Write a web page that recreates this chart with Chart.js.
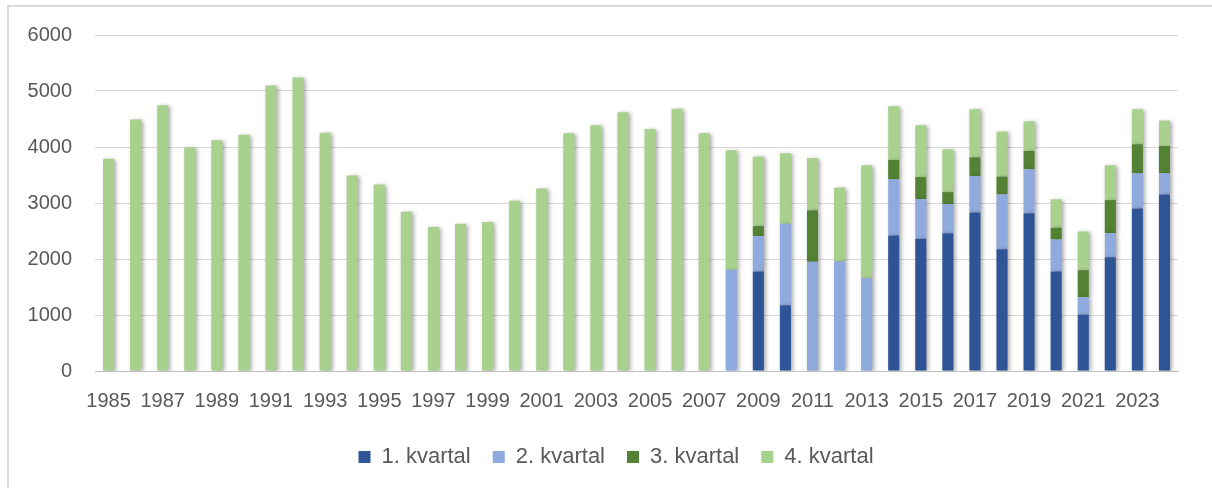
<!DOCTYPE html>
<html>
<head>
<meta charset="utf-8">
<script src="https://cdn.jsdelivr.net/npm/chart.js@4"></script>
<style>
  body { margin: 0; background: #fff; overflow: hidden; }
  #wrap { position: relative; width: 1212px; height: 488px; overflow: hidden; }
  #frame { position: absolute; left: 7px; top: 5px; width: 1205px; height: 490px; border-left: 2px solid #d9d9d9; border-top: 2px solid #d9d9d9; box-sizing: border-box; }
  canvas { position: absolute; left: 0; top: 0; }
</style>
</head>
<body>
<div id="wrap">
  <div id="frame"></div>
  <canvas id="myChart" width="1212" height="488"></canvas>
</div>
<script>
'use strict';

let years = [];
for (let y = 1985; y <= 2024; y++) { years.push(String(y)); }

let seriesNames = ['1. kvartal', '2. kvartal', '3. kvartal', '4. kvartal'];

// 1985-2007 only the full year (shown as 4. kvartal)
let q1 = [0,0,0,0,0,0,0,0,0,0,0,0,0,0,0,0,0,0,0,0,0,0,0,
          0, 1776, 1174, 0, 0, 0, 2420, 2361, 2462, 2832, 2175, 2819, 1776, 1007, 2032, 2904, 3154];
let q2 = [0,0,0,0,0,0,0,0,0,0,0,0,0,0,0,0,0,0,0,0,0,0,0,
          1807, 632, 1456, 1950, 1961, 1657, 1002, 709, 518, 649, 979, 782, 573, 310, 430, 626, 376];
let q3 = [0,0,0,0,0,0,0,0,0,0,0,0,0,0,0,0,0,0,0,0,0,0,0,
          0, 179, 0, 918, 0, 0, 346, 393, 215, 335, 317, 328, 209, 483, 590, 519, 488];
let q4 = [3790, 4490, 4745, 3990, 4120, 4220, 5100, 5240, 4255, 3490, 3330, 2845, 2570, 2630, 2660, 3040, 3260, 4245, 4390, 4620, 4320, 4685, 4245,
          2134, 1242, 1258, 935, 1313, 2016, 960, 925, 764, 859, 805, 531, 507, 692, 621, 626, 455];

let colors = ['#2f5597', '#8faadc', '#548235', '#a9d18e'];
let allData = [q1, q2, q3, q4];

let datasets = [];
for (let i = 0; i < 4; i++) {
    datasets.push({
        label: seriesNames[i],
        data: allData[i],
        backgroundColor: colors[i],
        borderWidth: 0,
        barPercentage: 0.41,
        categoryPercentage: 1
    });
}

// soft shadow like the original bars
let shadowPlugin = {
    id: 'barShadow',
    beforeDatasetsDraw(chart) {
        let ctx = chart.ctx;
        ctx.save();
        ctx.shadowColor = 'rgba(0,0,0,0.35)';
        ctx.shadowBlur = 4;
        ctx.shadowOffsetX = 2;
        ctx.shadowOffsetY = 1;
    },
    afterDatasetsDraw(chart) {
        chart.ctx.restore();
    }
};

// legend sits a bit right of the canvas centre in the original
let legendShift = {
    id: 'legendShift',
    afterLayout(chart) {
        chart.legend.left += 27;
        chart.legend.right += 27;
    }
};

Chart.defaults.font.family = '"Liberation Sans", Arial, sans-serif';
Chart.defaults.color = '#595959';

let ctx = document.getElementById('myChart');
let myChart = new Chart(ctx, {
    type: 'bar',
    data: { labels: years, datasets: datasets },
    plugins: [shadowPlugin, legendShift],
    options: {
        responsive: false,
        animation: false,
        layout: { padding: { top: 24, right: 34, left: 0, bottom: 10 } },
        plugins: {
            tooltip: { enabled: false },
            legend: {
                position: 'bottom',
                labels: {
                    boxWidth: 12,
                    boxHeight: 12,
                    padding: 22,
                    font: { size: 22 },
                    color: '#595959'
                }
            }
        },
        scales: {
            x: {
                stacked: true,
                grid: { display: false },
                border: { color: '#bfbfbf', width: 1 },
                afterFit: function (s) { s.height += 1; },
                ticks: {
                    autoSkip: false,
                    maxRotation: 0,
                    padding: 10,
                    font: { size: 20 },
                    callback: function (val, i) { return i % 2 === 0 ? years[i] : ''; }
                }
            },
            y: {
                stacked: true,
                min: 0,
                max: 6000,
                afterFit: function (s) { s.width = 95; },
                grid: { color: '#d9d9d9', drawTicks: false },
                border: { display: false },
                ticks: {
                    stepSize: 1000,
                    padding: 23,
                    font: { size: 20 },
                    callback: function (v) { return String(v); }
                }
            }
        }
    }
});
</script>
</body>
</html>
